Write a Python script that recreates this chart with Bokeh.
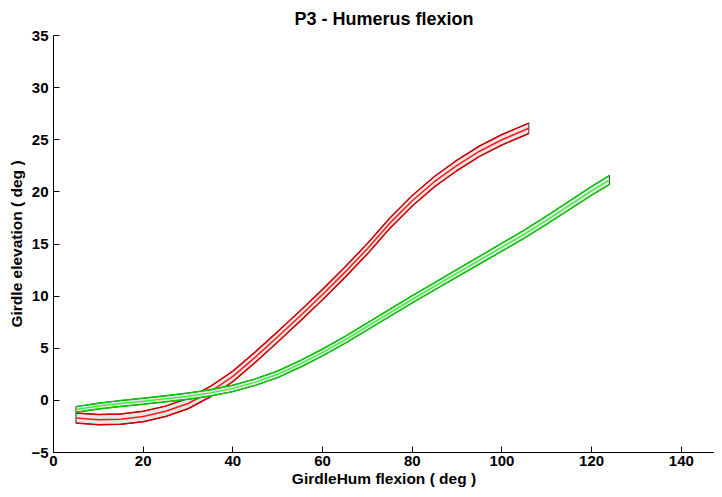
from bokeh.plotting import figure
from bokeh.models import Range1d, FixedTicker
from bokeh.embed import file_html
from bokeh.resources import INLINE

# ---- data ----
red_x = [5, 10, 15, 20, 25, 30, 35, 40, 45, 50, 55, 60, 65, 70, 75, 80, 85, 90, 95, 100, 106]
red_mean = [-1.70, -1.85, -1.80, -1.55, -1.05, -0.30, 0.85, 2.30, 4.15, 6.10, 8.10, 10.15,
            12.30, 14.55, 17.00, 19.15, 21.00, 22.55, 23.90, 25.00, 26.10]
red_sd = [0.48, 0.49, 0.50, 0.50, 0.50, 0.50, 0.50, 0.50, 0.50, 0.50, 0.50, 0.50,
          0.50, 0.50, 0.50, 0.50, 0.50, 0.50, 0.50, 0.50, 0.50]

green_x = [5, 10, 15, 20, 25, 30, 35, 40, 45, 50, 55, 60, 65, 70, 75, 80, 85, 90, 95,
           100, 105, 110, 115, 120, 124]
green_mean = [-0.87, -0.55, -0.30, -0.08, 0.15, 0.40, 0.72, 1.15, 1.75, 2.50, 3.50, 4.60,
              5.80, 7.10, 8.40, 9.70, 10.95, 12.20, 13.45, 14.70, 15.95, 17.30, 18.70,
              20.10, 21.15]
green_sd = [0.27, 0.28, 0.28, 0.29, 0.29, 0.30, 0.30, 0.31, 0.31, 0.32, 0.32, 0.33, 0.33,
            0.34, 0.34, 0.35, 0.35, 0.36, 0.37, 0.38, 0.39, 0.40, 0.41, 0.42, 0.43]

x_ticks = [0, 20, 40, 60, 80, 100, 120, 140]
y_ticks = [-5, 0, 5, 10, 15, 20, 25, 30, 35]

title_text = "P3 - Humerus flexion"
x_label = "GirdleHum flexion ( deg )"
y_label = "Girdle elevation ( deg )"

FONT = "Liberation Sans"

p = figure(width=714, height=489, output_backend="svg", toolbar_location=None,
           x_range=Range1d(0, 147.4), y_range=Range1d(-5, 35),
           min_border_left=53, min_border_right=0, min_border_top=34, min_border_bottom=30)

p.background_fill_color = "white"
p.border_fill_color = "white"
p.outline_line_color = None
p.xgrid.visible = False
p.ygrid.visible = False

p.title.text = title_text
p.title.align = "center"
p.title.text_font = FONT
p.title.text_font_size = "18px"
p.title.text_font_style = "bold"
p.title.text_color = "black"
p.title.standoff = 13


def band(xs, mean, sd, edge, mid, face):
    upper = [m + s for m, s in zip(mean, sd)]
    lower = [m - s for m, s in zip(mean, sd)]
    p.patch(xs + xs[::-1], upper + lower[::-1], fill_color=face, line_color="#303030",
            line_width=1)
    p.line(xs, upper, line_color=edge, line_width=1.5)
    p.line(xs, lower, line_color=edge, line_width=1.5)
    p.line(xs, mean, line_color=mid, line_width=1.5)


band(red_x, red_mean, red_sd, "#d00000", "#ff1a1a", "#e6e6e6")
band(green_x, green_mean, green_sd, "#00c800", "#40f040", "#e6e6e6")

for ax in (p.xaxis[0], p.yaxis[0]):
    ax.major_tick_in = 6
    ax.major_tick_out = 0
    ax.minor_tick_line_color = None
    ax.axis_line_color = "black"
    ax.major_tick_line_color = "black"
    ax.major_label_text_font = FONT
    ax.major_label_text_font_size = "15px"
    ax.major_label_text_font_style = "bold"
    ax.major_label_text_color = "black"
    ax.axis_label_text_font = FONT
    ax.axis_label_text_font_size = "15.5px"
    ax.axis_label_text_font_style = "bold"
    ax.axis_label_text_color = "black"

p.xaxis.ticker = FixedTicker(ticks=x_ticks)
p.yaxis.ticker = FixedTicker(ticks=y_ticks)
p.xaxis.axis_label = x_label
p.yaxis.axis_label = y_label
p.xaxis.major_label_standoff = 3
p.xaxis.axis_label_standoff = 1
p.yaxis.major_label_standoff = 5
p.yaxis.axis_label_standoff = 3

open("out.html", "w").write(file_html(p, INLINE))
